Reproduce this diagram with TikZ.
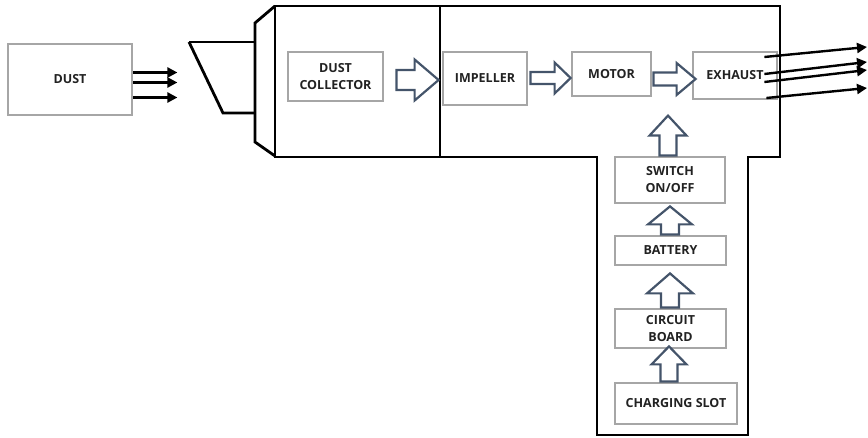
\documentclass[tikz,border=0pt]{standalone}
\usepackage{fontspec}
\setmainfont{Open Sans}
\usetikzlibrary{calc,arrows.meta}
\definecolor{boxgray}{HTML}{A6A6A6}
\definecolor{labeltext}{HTML}{222222}
\definecolor{flowblue}{HTML}{44546A}
\tikzset{
  part/.style={draw=boxgray, line width=2.8pt, fill=white, inner sep=0pt,
    text=labeltext, font=\fontsize{12.5}{17}\selectfont\bfseries, align=center},
  body/.style={draw=black, line width=2.8pt, line join=miter},
  stream/.style={line width=2.4pt, -{Triangle[length=10pt,width=10pt]}},
  hollow/.style={draw=flowblue, line width=2.2pt, fill=white, line join=miter}
}
% block arrow from tail #1 to tip #2: half shaft #3, half head #4, head length #5
\newcommand\blockarrow[5]{%
  \coordinate (ba-h) at ($(#2)!#5!(#1)$);
  \draw[hollow] ($(#1)!#3!90:(#2)$) -- ($(ba-h)!#3!90:(#2)$) -- ($(ba-h)!#4!90:(#2)$)
    -- (#2) -- ($(ba-h)!#4!-90:(#2)$) -- ($(ba-h)!#3!-90:(#2)$)
    -- ($(#1)!#3!-90:(#2)$) -- cycle;
}
\begin{document}
\begin{tikzpicture}[x=1pt,y=-1pt]
\useasboundingbox (0,0) rectangle (868,438);

% housing: nozzle, flange, barrel and handle
\draw[body] (189,42) -- (255,42);
\draw[body] (189,42) -- (223,113) -- (255,113);
\draw[body] (275,6) -- (255,23) -- (255,142) -- (275,156);
\draw[body] (275,6) -- (780,6) -- (780,157) -- (748,157) -- (748,435)
  -- (597,435) -- (597,157) -- (275,157) -- cycle;
\draw[body] (440,6) -- (440,157);

% parts
\node[part, minimum width=124, minimum height=71] (dust) at (70,79.5) {DUST};
\node[part, minimum width=95, minimum height=49] (dc) at (335.5,76.5) {DUST\\COLLECTOR};
\node[part, minimum width=84, minimum height=53] (imp) at (485,78.5) {IMPELLER};
\node[part, minimum width=79, minimum height=44] (motor) at (611.5,74) {MOTOR};
\node[part, minimum width=84, minimum height=47] (exh) at (735,75.5) {EXHAUST};
\node[part, minimum width=110, minimum height=46] (sw) at (670,180) {SWITCH\\ON/OFF};
\node[part, minimum width=111, minimum height=29] (bat) at (670.5,250.5) {BATTERY};
\node[part, minimum width=111, minimum height=39] (cb) at (670.5,328.5) {CIRCUIT\\BOARD};
\node[part, minimum width=122, minimum height=41] (cs) at (676,403.5) {CHARGING SLOT};

% dust drawn in
\draw[stream] ($(dust.east)+(0,-7)$) -- ++(44,0);
\draw[stream] ($(dust.east)+(0,3)$) -- ++(44,0);
\draw[stream] ($(dust.east)+(0,18)$) -- ++(44,0);

% air blown out
\coordinate (o1) at (867,47);
\coordinate (o2) at (867,62);
\coordinate (o3) at (867,70);
\coordinate (o4) at (867,88);
\draw[stream] ($(exh.east)+(-14,-18.5)$) -- (o1);
\draw[stream] ($(exh.east)+(-14,-1.5)$) -- (o2);
\draw[stream] ($(exh.east)+(-14,6.5)$) -- (o3);
\draw[stream] ($(exh.east)+(-12,22.5)$) -- (o4);

% flow between parts
\coordinate (a1t) at ($(dc.east)+(12,3.5)$);
\coordinate (a1p) at ($(imp.west)+(-3,1.5)$);
\blockarrow{a1t}{a1p}{10pt}{20.5pt}{24pt}
\coordinate (a2t) at ($(imp.east)+(2,-0.5)$);
\coordinate (a2p) at ($(motor.west)+(0,4)$);
\blockarrow{a2t}{a2p}{6pt}{15.5pt}{16pt}
\coordinate (a3t) at ($(motor.east)+(1,5)$);
\coordinate (a3p) at ($(exh.west)+(4,3.5)$);
\blockarrow{a3t}{a3p}{6.5pt}{16pt}{19pt}
\coordinate (a4t) at ($(sw.north)+(-2,0)$);
\coordinate (a4p) at ($(sw.north)+(-2,-40)$);
\blockarrow{a4t}{a4p}{8.5pt}{18.5pt}{20pt}
\coordinate (a5t) at ($(bat.north)+(-0.5,0)$);
\coordinate (a5p) at ($(sw.south)+(0,2)$);
\blockarrow{a5t}{a5p}{9pt}{22pt}{18pt}
\coordinate (a6t) at ($(cb.north)+(-0.5,0)$);
\coordinate (a6p) at ($(bat.south)+(-0.5,7)$);
\blockarrow{a6t}{a6p}{9pt}{23pt}{20pt}
\coordinate (a7t) at ($(cs.north)+(-7,0)$);
\coordinate (a7p) at ($(cb.south)+(-1.5,-3)$);
\blockarrow{a7t}{a7p}{8.5pt}{17.5pt}{18pt}
\end{tikzpicture}
\end{document}
